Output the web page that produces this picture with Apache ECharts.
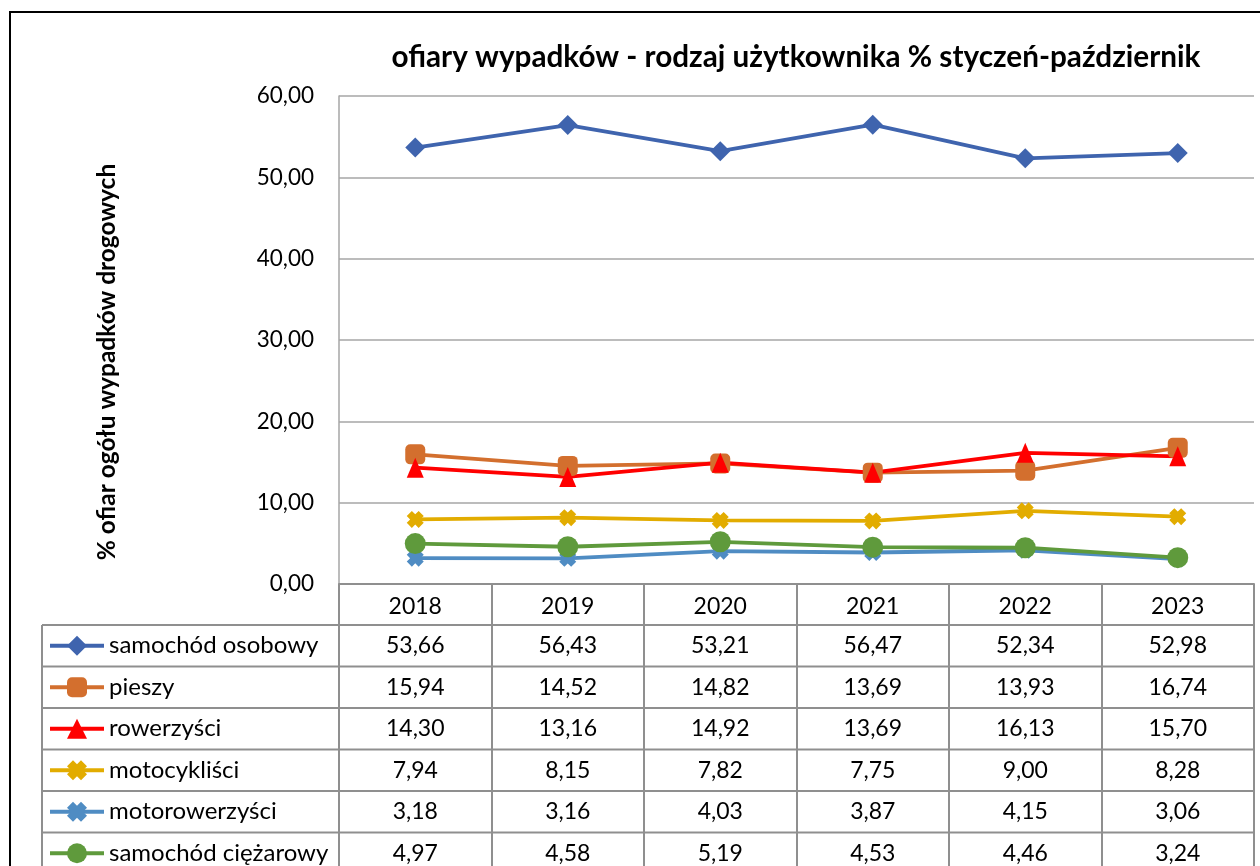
<!DOCTYPE html>
<html>
<head>
<meta charset="utf-8">
<script src="https://cdn.jsdelivr.net/npm/echarts@6/dist/echarts.min.js"></script>
<style>
  html, body { margin: 0; padding: 0; background: #fff; }
  #chart { width: 1260px; height: 866px; }
</style>
</head>
<body>
<div id="chart"></div>
<script>
// lata (kategorie)
var years = ['2018', '2019', '2020', '2021', '2022', '2023'];

// udział ofiar wg rodzaju użytkownika, %
var osobowy       = [53.66, 56.43, 53.21, 56.47, 52.34, 52.98];
var pieszy        = [15.94, 14.52, 14.82, 13.69, 13.93, 16.74];
var rowerzysci    = [14.30, 13.16, 14.92, 13.69, 16.13, 15.70];
var motocyklisci  = [7.94, 8.15, 7.82, 7.75, 9.00, 8.28];
var motorowerzysci = [3.18, 3.16, 4.03, 3.87, 4.15, 3.06];
var ciezarowy     = [4.97, 4.58, 5.19, 4.53, 4.46, 3.24];

var seriesNames = ['samochód osobowy', 'pieszy', 'rowerzyści', 'motocykliści', 'motorowerzyści', 'samochód ciężarowy'];
var seriesData = [osobowy, pieszy, rowerzysci, motocyklisci, motorowerzysci, ciezarowy];
var seriesColors = ['#3f64ae', '#d36f2e', '#ff0000', '#e2ac00', '#4f8cc3', '#5f9a3c'];
// gruby znacznik "x" jak w Excelu
var xMark = 'path://M0,3 L3,0 L5,2 L7,0 L10,3 L8,5 L10,7 L7,10 L5,8 L3,10 L0,7 L2,5 Z';
var seriesSymbols = ['diamond', 'roundRect', 'triangle', xMark, xMark, 'circle'];
var symbolSizes = [20, 20, [17, 20], 17, 17, 21];

// ticki osi Y
var yTicks = [0, 10, 20, 30, 40, 50, 60];

var FONT = 'Lato, "Open Sans", sans-serif';
var GRID_L = 339, GRID_R = 1254, GRID_T = 96, GRID_B = 584;
var ROW_TOP = 625, ROW_H = 41.5;
var TABLE_L = 42;
var LINE_C = '#8f8f8f';
var ICON_H = 25;

function fmt(v) {
    return v.toFixed(2).replace('.', ',');
}

var myChart = echarts.init(document.getElementById('chart'));

var series = [];
for (var i = 0; i < seriesNames.length; i++) {
    series.push({
        name: seriesNames[i],
        type: 'line',
        data: seriesData[i],
        symbol: seriesSymbols[i],
        symbolSize: symbolSizes[i],
        color: seriesColors[i],
        lineStyle: { width: 3.8, color: seriesColors[i] },
        itemStyle: { color: seriesColors[i] },
        emphasis: { disabled: true },
        animation: false
    });
}

var option = {
    animation: false,
    textStyle: { fontFamily: FONT },
    title: {
        text: 'ofiary wypadków - rodzaj użytkownika % styczeń-październik',
        left: 791,
        top: 37,
        textAlign: 'center',
        textStyle: { fontSize: 29.7, fontWeight: 'bold', color: '#000', fontFamily: FONT }
    },
    legend: {
        orient: 'vertical',
        left: 48,
        top: ROW_TOP + ROW_H / 2 - ICON_H / 2,
        height: 400,
        padding: 0,
        itemWidth: 54,
        itemHeight: ICON_H,
        itemGap: ROW_H - ICON_H,
        selectedMode: false,
        data: seriesNames,
        lineStyle: { width: 4 },
        textStyle: { fontSize: 24, color: '#000', lineHeight: ICON_H, fontFamily: FONT }
    },
    grid: {
        left: GRID_L,
        right: 1260 - GRID_R,
        top: GRID_T,
        bottom: 866 - GRID_B,
        containLabel: false
    },
    xAxis: {
        type: 'category',
        data: years,
        boundaryGap: true,
        axisLine: { show: true, lineStyle: { color: LINE_C, width: 2 } },
        axisTick: { show: true, length: 300, lineStyle: { color: LINE_C, width: 2 } },
        axisLabel: { fontSize: 23, color: '#000', margin: 11, fontFamily: FONT },
        splitLine: { show: false }
    },
    yAxis: {
        type: 'value',
        min: yTicks[0],
        max: yTicks[yTicks.length - 1],
        interval: 10,
        name: '% ofiar ogółu wypadków drogowych',
        nameLocation: 'middle',
        nameRotate: 90,
        nameGap: 219,
        nameTextStyle: { fontSize: 24.5, fontWeight: 'bold', color: '#000', fontFamily: FONT, padding: [0, 44, 0, 0] },
        axisLine: { show: true, lineStyle: { color: '#a6a6a6', width: 1.5 } },
        axisTick: { show: false },
        axisLabel: { fontSize: 22.5, color: '#000', margin: 25, formatter: fmt, fontFamily: FONT },
        splitLine: { show: true, lineStyle: { color: '#a6a6a6', width: 1.5 } }
    },
    series: series
};

myChart.setOption(option);

// tabela danych pod wykresem
var graphics = [];
// ramka całości
graphics.push({
    type: 'rect', silent: true, z: 100,
    shape: { x: 10, y: 12, width: 1400, height: 1000 },
    style: { fill: 'none', stroke: '#000', lineWidth: 2 }
});
// linie poziome tabeli
for (var r = 0; r <= seriesNames.length; r++) {
    var yy = ROW_TOP + r * ROW_H;
    graphics.push({
        type: 'line', silent: true, z: 50,
        shape: { x1: TABLE_L, y1: yy, x2: GRID_R, y2: yy },
        style: { stroke: LINE_C, lineWidth: 2 }
    });
}
// lewa krawędź tabeli
graphics.push({
    type: 'line', silent: true, z: 50,
    shape: { x1: TABLE_L, y1: ROW_TOP, x2: TABLE_L, y2: 900 },
    style: { stroke: LINE_C, lineWidth: 2 }
});
// wartości w komórkach
for (var s = 0; s < seriesData.length; s++) {
    var cy = ROW_TOP + s * ROW_H + ROW_H / 2;
    for (var j = 0; j < years.length; j++) {
        var cx = myChart.convertToPixel({ xAxisIndex: 0 }, years[j]);
        graphics.push({
            type: 'text', silent: true, z: 60,
            x: cx, y: cy,
            style: {
                text: fmt(seriesData[s][j]),
                fontSize: 23, fontFamily: FONT, fill: '#000',
                align: 'center', verticalAlign: 'middle'
            }
        });
    }
}

myChart.setOption({ graphic: graphics });
</script>
</body>
</html>
